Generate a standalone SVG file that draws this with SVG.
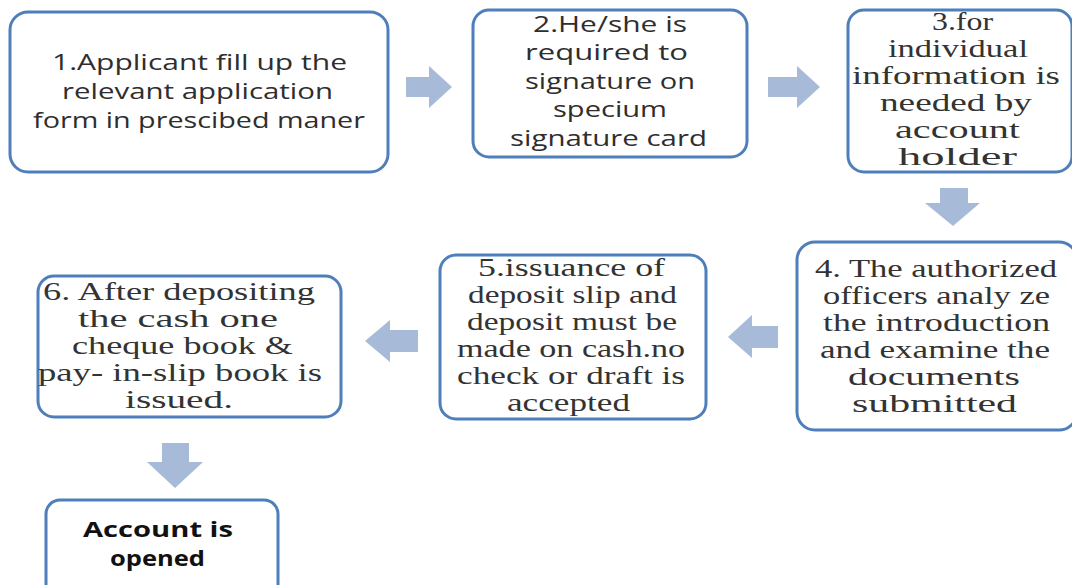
<svg xmlns="http://www.w3.org/2000/svg" width="1072" height="585" viewBox="0 0 1072 585">
<defs>
<style>
.box{fill:#fff;stroke:#4f7fbb;stroke-width:3}
.sans{font-family:"Open Sans","Liberation Sans",sans-serif;font-size:22px;fill:#2e2e2e}
.serif{font-family:"Liberation Serif",serif;font-size:25px;fill:#333}
.bold{font-family:"Open Sans","Liberation Sans",sans-serif;font-size:21px;font-weight:bold;fill:#111}
.arr{fill:#a7bbd9}
</style>
</defs>
<rect width="1072" height="585" fill="#fff"/>
<g id="connectors">
<path class="arr" d="M406,77 H429 V66 L452,87 L429,108 V97 H406 Z"/>
<path class="arr" d="M768,77 H797 V66 L820,87 L797,108 V97 H768 Z"/>
<path class="arr" d="M940,188 H968 V203 H980 L953,226 L925,203 H940 Z"/>
<path class="arr" d="M778,326 H752 V315 L728,337 L752,358 V348 H778 Z"/>
<path class="arr" d="M418,330 H390 V320 L365,341 L390,362 V352 H418 Z"/>
<path class="arr" d="M162,443 H189 V462 H203 L175,488 L147,462 H162 Z"/>
</g>
<g id="node1">
<rect class="box" x="10" y="12" width="378" height="160" rx="18"/>
<text class="sans" x="52" y="70" textLength="295" lengthAdjust="spacingAndGlyphs">1.Applicant fill up the</text>
<text class="sans" x="62" y="99" textLength="271" lengthAdjust="spacingAndGlyphs">relevant application</text>
<text class="sans" x="33" y="128" textLength="332" lengthAdjust="spacingAndGlyphs">form in prescibed  maner</text>
</g>
<g id="node2">
<rect class="box" x="473" y="10" width="274" height="147" rx="16"/>
<text class="sans" x="533" y="32" textLength="154" lengthAdjust="spacingAndGlyphs">2.He/she is</text>
<text class="sans" x="525" y="60" textLength="163" lengthAdjust="spacingAndGlyphs">required to</text>
<text class="sans" x="525" y="89" textLength="170" lengthAdjust="spacingAndGlyphs">signature on</text>
<text class="sans" x="553" y="117" textLength="114" lengthAdjust="spacingAndGlyphs">specium</text>
<text class="sans" x="510" y="146" textLength="197" lengthAdjust="spacingAndGlyphs">signature card</text>
</g>
<g id="node3">
<rect class="box" x="848" y="10" width="224" height="162" rx="16"/>
<text class="serif" x="932" y="30" textLength="61" lengthAdjust="spacingAndGlyphs">3.for</text>
<text class="serif" x="888" y="57" textLength="140" lengthAdjust="spacingAndGlyphs">individual</text>
<text class="serif" x="852" y="84" textLength="208" lengthAdjust="spacingAndGlyphs">information is</text>
<text class="serif" x="880" y="111" textLength="152" lengthAdjust="spacingAndGlyphs">needed by</text>
<text class="serif" x="895" y="138" textLength="125" lengthAdjust="spacingAndGlyphs">account</text>
<text class="serif" x="898" y="165" textLength="119" lengthAdjust="spacingAndGlyphs">holder</text>
</g>
<g id="node4">
<rect class="box" x="797" y="242" width="280" height="188" rx="18"/>
<text class="serif" x="815" y="277" textLength="242" lengthAdjust="spacingAndGlyphs">4. The authorized</text>
<text class="serif" x="823" y="304" textLength="227" lengthAdjust="spacingAndGlyphs">officers analy ze</text>
<text class="serif" x="823" y="331" textLength="227" lengthAdjust="spacingAndGlyphs">the introduction</text>
<text class="serif" x="820" y="358" textLength="230" lengthAdjust="spacingAndGlyphs">and examine the</text>
<text class="serif" x="848" y="385" textLength="172" lengthAdjust="spacingAndGlyphs">documents</text>
<text class="serif" x="852" y="412" textLength="165" lengthAdjust="spacingAndGlyphs">submitted</text>
</g>
<g id="node5">
<rect class="box" x="440" y="255" width="266" height="164" rx="16"/>
<text class="serif" x="478" y="276" textLength="187" lengthAdjust="spacingAndGlyphs">5.issuance  of</text>
<text class="serif" x="468" y="303" textLength="209" lengthAdjust="spacingAndGlyphs">deposit slip and</text>
<text class="serif" x="467" y="330" textLength="210" lengthAdjust="spacingAndGlyphs">deposit must be</text>
<text class="serif" x="457" y="357" textLength="228" lengthAdjust="spacingAndGlyphs">made on cash.no</text>
<text class="serif" x="457" y="384" textLength="228" lengthAdjust="spacingAndGlyphs">check or  draft is</text>
<text class="serif" x="507" y="411" textLength="123" lengthAdjust="spacingAndGlyphs">accepted</text>
</g>
<g id="node6">
<rect class="box" x="38" y="276" width="303" height="141" rx="16"/>
<text class="serif" x="43" y="300" textLength="272" lengthAdjust="spacingAndGlyphs">6. After depositing</text>
<text class="serif" x="78" y="327" textLength="200" lengthAdjust="spacingAndGlyphs">the cash one</text>
<text class="serif" x="72" y="354" textLength="221" lengthAdjust="spacingAndGlyphs">cheque book &amp;</text>
<text class="serif" x="38" y="381" textLength="284" lengthAdjust="spacingAndGlyphs">pay- in-slip book is</text>
<text class="serif" x="125" y="408" textLength="108" lengthAdjust="spacingAndGlyphs">issued.</text>
</g>
<g id="node7">
<rect class="box" x="46" y="500" width="232" height="100" rx="14"/>
<text class="bold" x="83" y="537" textLength="150" lengthAdjust="spacingAndGlyphs">Account is</text>
<text class="bold" x="110" y="566" textLength="95" lengthAdjust="spacingAndGlyphs">opened</text>
</g>
</svg>
